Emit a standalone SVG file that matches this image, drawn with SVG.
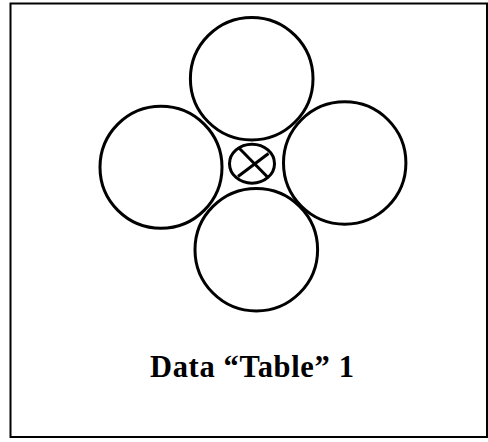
<svg xmlns="http://www.w3.org/2000/svg" width="488" height="442" viewBox="0 0 488 442">
  <style>
    .ring { fill: none; stroke: #000; stroke-width: 3; }
    .frame { fill: #fff; stroke: #000; stroke-width: 2; }
    .label { font-family: "Liberation Serif", "Times New Roman", serif; font-weight: bold; font-size: 30.5px; fill: #000; }
  </style>
  <rect class="frame" x="10.5" y="3.5" width="476.5" height="433.5"/>
  <g id="circle-top"><circle class="ring" cx="251.7" cy="78.7" r="61.3"/></g>
  <g id="circle-left"><circle class="ring" cx="161" cy="167.3" r="61"/></g>
  <g id="circle-right"><circle class="ring" cx="344.7" cy="163" r="61.2"/></g>
  <g id="circle-bottom"><circle class="ring" cx="256.3" cy="249.7" r="61.3"/></g>
  <g id="center">
    <ellipse class="ring" cx="252" cy="163.7" rx="22.5" ry="19.5"/>
    <line class="ring" x1="239.5" y1="148.5" x2="267.5" y2="177"/>
    <line class="ring" x1="238" y1="176.5" x2="268.5" y2="153.5"/>
  </g>
  <g id="connectors"></g>
  <text class="label" x="150" y="376.7" textLength="204" lengthAdjust="spacing">Data “Table” 1</text>
</svg>
